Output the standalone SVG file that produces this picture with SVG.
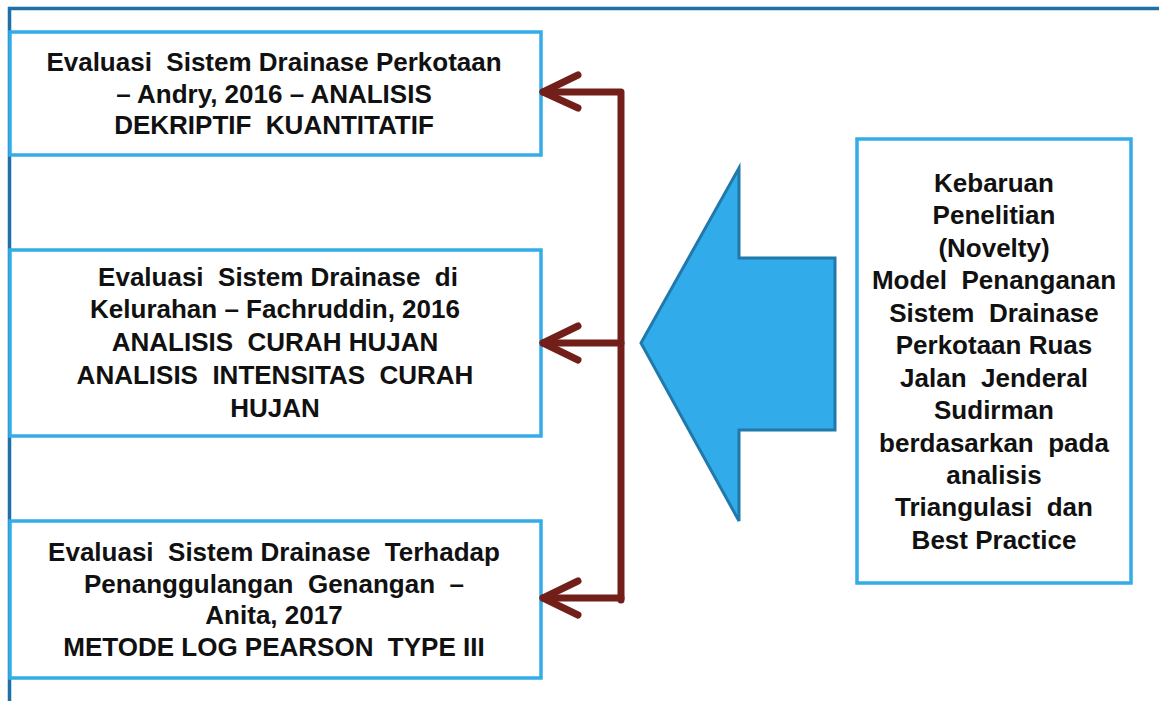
<svg xmlns="http://www.w3.org/2000/svg" width="1159" height="701" viewBox="0 0 1159 701">
<defs>
<style>
.box{fill:#fff;stroke:#33ACE8;stroke-width:3.5}
.t{font-family:"Liberation Sans",Arial,sans-serif;font-weight:bold;font-size:26px;fill:#111;text-anchor:middle}
.con{fill:none;stroke:#711F18;stroke-width:7;stroke-linecap:round;stroke-linejoin:round}
</style>
</defs>
<rect width="1159" height="701" fill="#fff"/>
<g id="frame">
<path d="M9.5 701 V8.5 H1159" fill="none" stroke="#1F70A6" stroke-width="3.5"/>
</g>
<g id="node-andry">
<rect class="box" x="10" y="32" width="531" height="123"/>
<text class="t" x="274" y="71" xml:space="preserve">Evaluasi  Sistem Drainase Perkotaan</text>
<text class="t" x="274" y="103">– Andry, 2016 – ANALISIS</text>
<text class="t" x="274" y="134" xml:space="preserve">DEKRIPTIF  KUANTITATIF</text>
</g>
<g id="node-fachruddin">
<rect class="box" x="10" y="250" width="531" height="186"/>
<text class="t" x="278" y="286" xml:space="preserve">Evaluasi  Sistem Drainase  di</text>
<text class="t" x="275" y="318">Kelurahan – Fachruddin, 2016</text>
<text class="t" x="275" y="351" xml:space="preserve">ANALISIS  CURAH HUJAN</text>
<text class="t" x="275" y="384" xml:space="preserve">ANALISIS  INTENSITAS  CURAH</text>
<text class="t" x="275" y="417">HUJAN</text>
</g>
<g id="node-anita">
<rect class="box" x="10" y="521" width="531" height="157"/>
<text class="t" x="274" y="561" xml:space="preserve">Evaluasi  Sistem Drainase  Terhadap</text>
<text class="t" x="274" y="593" xml:space="preserve">Penanggulangan  Genangan  –</text>
<text class="t" x="274" y="624">Anita, 2017</text>
<text class="t" x="274" y="656" xml:space="preserve">METODE LOG PEARSON  TYPE III</text>
</g>
<g id="node-novelty">
<rect class="box" x="857" y="139" width="274" height="444"/>
<text class="t" x="994" y="192">Kebaruan</text>
<text class="t" x="994" y="224">Penelitian</text>
<text class="t" x="994" y="257">(Novelty)</text>
<text class="t" x="994" y="289" xml:space="preserve">Model  Penanganan</text>
<text class="t" x="994" y="322" xml:space="preserve">Sistem  Drainase</text>
<text class="t" x="994" y="354">Perkotaan Ruas</text>
<text class="t" x="994" y="387" xml:space="preserve">Jalan  Jenderal</text>
<text class="t" x="994" y="419">Sudirman</text>
<text class="t" x="994" y="452" xml:space="preserve">berdasarkan  pada</text>
<text class="t" x="994" y="484">analisis</text>
<text class="t" x="994" y="516" xml:space="preserve">Triangulasi  dan</text>
<text class="t" x="994" y="549">Best Practice</text>
</g>
<g id="big-arrow">
<polygon points="641,343 739,168 739,258 835,258 835,430 739,430 739,521" fill="#31ABE9" stroke="#2179AB" stroke-width="3"/>
</g>
<g id="connectors">
<path class="con" d="M621 600 V92 H543"/>
<path class="con" d="M621 343 H543"/>
<path class="con" d="M621 598 H543"/>
<path class="con" d="M578 75 L543 92 L578 108"/>
<path class="con" d="M578 326 L543 343 L578 360"/>
<path class="con" d="M578 581 L543 598 L578 615"/>
</g>
</svg>
